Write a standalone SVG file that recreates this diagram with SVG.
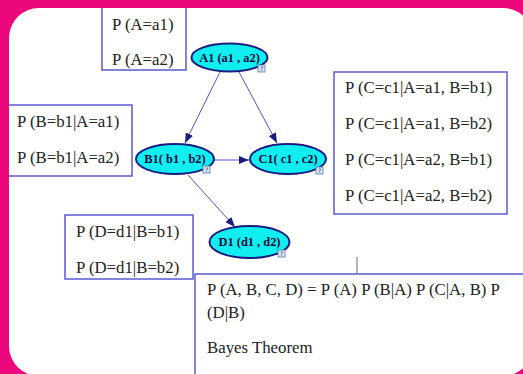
<svg xmlns="http://www.w3.org/2000/svg" width="523" height="374" viewBox="0 0 523 374">
<style>
.box{fill:none;stroke:#5b5bd0;stroke-width:1.5}
.t{font-family:"Liberation Serif","Times New Roman",serif;font-size:16.8px;fill:#222}
.node{fill:#11eef0;stroke:#1c1c80;stroke-width:2}
.nt{font-family:"Liberation Serif","Times New Roman",serif;font-size:12.4px;font-weight:bold;fill:#0a0a40;text-anchor:middle}
.edge{stroke:#5555cc;stroke-width:1;fill:none}
.ic{fill:#d8e6f4;stroke:#5577aa;stroke-width:0.8}
.it{font-family:"DejaVu Sans",sans-serif;font-size:6px;fill:#335;text-anchor:middle}
</style>
<defs>
<marker id="ah" markerWidth="10" markerHeight="8" refX="10" refY="4" orient="auto" markerUnits="userSpaceOnUse">
<path d="M0,0 L10,4 L0,8 Z" fill="#1c1c80"/>
</marker>
</defs>
<rect x="0" y="0" width="523" height="374" fill="#ec087c"/>
<rect x="9" y="8" width="524" height="368" rx="30" ry="30" fill="#ffffff"/>

<g id="boxA">
<path class="box" d="M102,8 V70 H186 V8"/>
<text class="t" x="112" y="30">P (A=a1)</text>
<text class="t" x="112" y="65">P (A=a2)</text>
</g>
<g id="boxB">
<path class="box" d="M9,105 H132 V176 H9"/>
<text class="t" x="17" y="127">P (B=b1|A=a1)</text>
<text class="t" x="17" y="163">P (B=b1|A=a2)</text>
</g>
<g id="boxC">
<rect class="box" x="334" y="72" width="173" height="142"/>
<text class="t" x="345" y="93">P (C=c1|A=a1, B=b1)</text>
<text class="t" x="345" y="129">P (C=c1|A=a1, B=b2)</text>
<text class="t" x="345" y="165">P (C=c1|A=a2, B=b1)</text>
<text class="t" x="345" y="201">P (C=c1|A=a2, B=b2)</text>
</g>
<g id="boxD">
<rect class="box" x="65" y="215" width="128" height="64"/>
<text class="t" x="76" y="237">P (D=d1|B=b1)</text>
<text class="t" x="76" y="273">P (D=d1|B=b2)</text>
</g>
<g id="bayes">
<line x1="357" y1="257" x2="357" y2="274" stroke="#666" stroke-width="1"/>
<path class="box" d="M195,374 V274 H523"/>
<text class="t" x="207" y="295">P (A, B, C, D) = P (A) P (B|A) P (C|A, B) P</text>
<text class="t" x="207" y="318">(D|B)</text>
<text class="t" x="207" y="353">Bayes Theorem</text>
</g>

<g id="connectors">
<line class="edge" x1="220" y1="72" x2="185" y2="143" marker-end="url(#ah)"/>
<line class="edge" x1="239" y1="72" x2="277" y2="143" marker-end="url(#ah)"/>
<line class="edge" x1="214" y1="160" x2="249" y2="160" marker-end="url(#ah)"/>
<line class="edge" x1="188" y1="175" x2="235" y2="227" marker-end="url(#ah)"/>
</g>

<g id="A1">
<ellipse class="node" cx="229.5" cy="57.5" rx="38" ry="14"/>
<text class="nt" x="229.5" y="62">A1 (a1 , a2)</text>
<rect class="ic" x="258" y="65" width="7" height="7"/>
<text class="it" x="261.5" y="71">?</text>
</g>
<g id="B1">
<ellipse class="node" cx="175" cy="159" rx="39" ry="15"/>
<text class="nt" x="175" y="163">B1( b1 , b2)</text>
<rect class="ic" x="203" y="166" width="7" height="7"/>
<text class="it" x="206.5" y="172">?</text>
</g>
<g id="C1">
<ellipse class="node" cx="288" cy="159" rx="38" ry="15"/>
<text class="nt" x="288" y="163">C1( c1 , c2)</text>
<rect class="ic" x="316" y="167" width="7" height="7"/>
<text class="it" x="319.5" y="173">?</text>
</g>
<g id="D1">
<ellipse class="node" cx="249.5" cy="242" rx="40" ry="16"/>
<text class="nt" x="249.5" y="246">D1 (d1 , d2)</text>
<rect class="ic" x="278" y="250" width="7" height="7"/>
<text class="it" x="281.5" y="256">?</text>
</g>
</svg>
